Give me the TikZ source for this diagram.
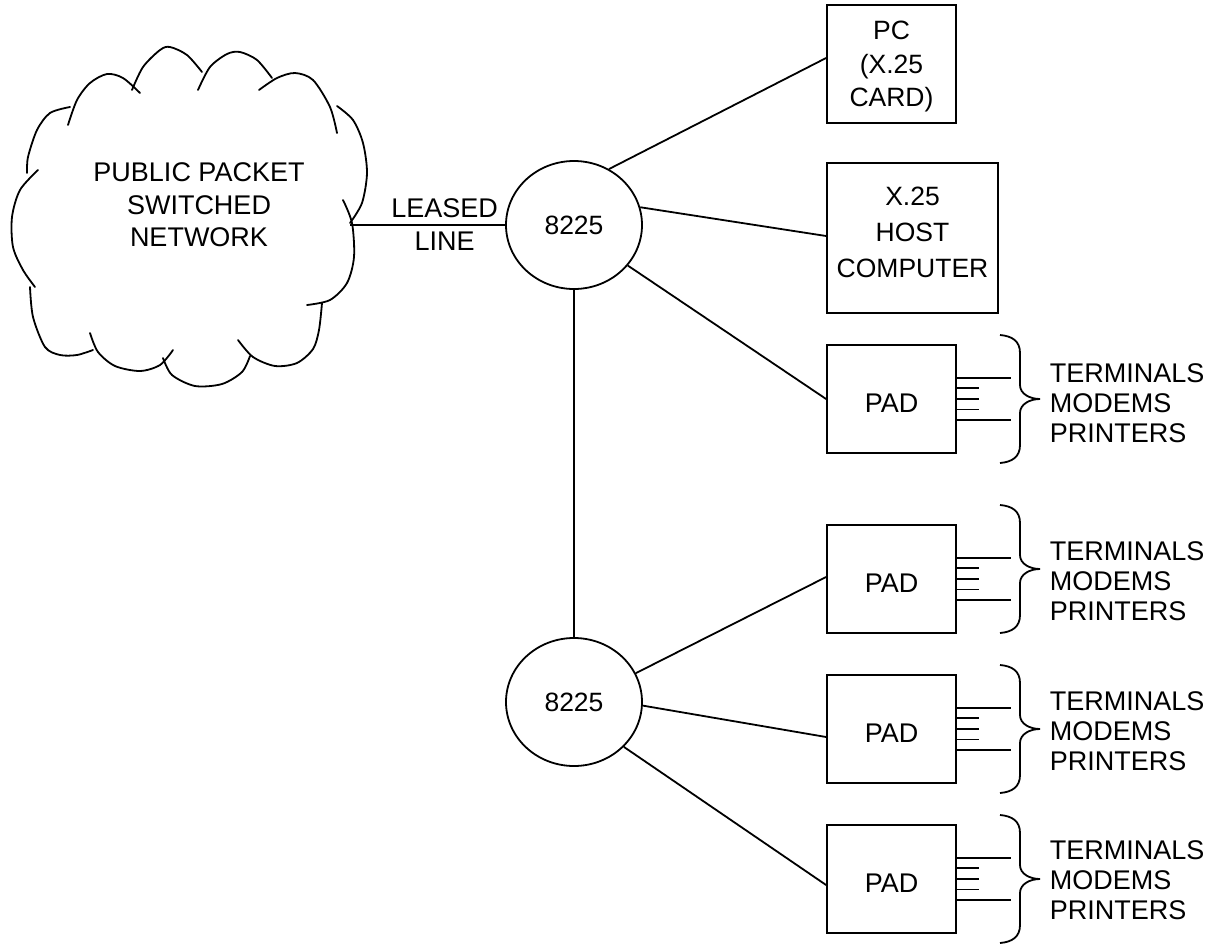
\documentclass[tikz,border=0pt]{standalone}
\usepackage{fontspec}
\setmainfont{Liberation Sans}
\usetikzlibrary{shapes.geometric}
\newcommand{\padbrace}[1]{%
  \draw[shift={(1000,#1)}] (0,-64) .. controls (12,-63) and (20,-58) .. (20,-46)
    -- (20,-14) .. controls (20,-5) and (30,0) .. (40,0)
    .. controls (30,0) and (20,5) .. (20,14)
    -- (20,46) .. controls (20,58) and (12,63) .. (0,64);}
\newcommand{\padstubs}[1]{%
  \draw ([yshift=21pt]#1.east) -- ++(54,0);
  \draw ([yshift=11pt]#1.east) -- ++(22,0);
  \draw (#1.east) -- ++(22,0);
  \draw ([yshift=-10.5pt]#1.east) -- ++(22,0);
  \draw ([yshift=-21pt]#1.east) -- ++(54,0);}
\begin{document}
\begin{tikzpicture}[x=1pt,y=-1pt,line width=1.8pt,
  lbl/.style={font=\fontsize{27}{30}\selectfont, inner sep=0pt},
  boxnode/.style={draw, inner sep=0pt, minimum width=129pt},
  padbox/.style={boxnode, minimum height=108pt},
  switchnode/.style={draw, ellipse, inner sep=0pt, minimum width=136pt,
    minimum height=128pt, font=\fontsize{26.5}{30}\selectfont},
  devlist/.style={lbl, align=left, anchor=west},
  bump/.style={line cap=round}]
\useasboundingbox (0,0) rectangle (1218,945);

% cloud
\draw[bump] plot[smooth] coordinates {(70,107) (50,113) (37,130) (28,157) (27,173)};
\draw[bump] plot[smooth] coordinates {(38,170) (20,190) (12,217) (13,247) (23,270) (35,287)};
\draw[bump] plot[smooth] coordinates {(30,287) (33,317) (45,347) (60,355) (77,355) (93,350)};
\draw[bump] plot[smooth] coordinates {(90,333) (98,352) (115,366) (140,371) (160,365) (173,350)};
\draw[bump] plot[smooth] coordinates {(163,358) (172,375) (195,386) (222,384) (242,372) (250,356)};
\draw[bump] plot[smooth] coordinates {(238,340) (253,357) (275,366) (297,363) (313,349) (319,330) (322,303)};
\draw[bump] plot[smooth] coordinates {(343,200) (352,223) (354,257) (347,283) (330,300) (307,305)};
\draw[bump] plot[smooth] coordinates {(337,106) (353,120) (363,143) (367,173) (362,203) (350,223)};
\draw[bump] plot[smooth] coordinates {(259,90) (277,78) (295,73) (313,80) (330,107) (337,133)};
\draw[bump] plot[smooth] coordinates {(198,90) (210,67) (227,54) (240,52) (257,60) (272,78)};
\draw[bump] plot[smooth] coordinates {(132,90) (143,67) (160,50) (170,47) (187,55) (202,72)};
\draw[bump] plot[smooth] coordinates {(68,125) (77,100) (90,83) (107,74) (123,78) (140,93)};
\node[lbl, align=center, font=\fontsize{27}{32.5}\selectfont] (net) at (199,205)
  {PUBLIC PACKET\\SWITCHED\\NETWORK};
\coordinate (cloudR) at (350,225);

% switches
\node[switchnode] (sw1) at (574,225) {8225};
\node[switchnode] (sw2) at (574,702) {8225};

% boxes
\node[boxnode, minimum height=118pt] (pc) at (891.5,64) {};
\node[lbl, align=center, font=\fontsize{26.5}{33.5}\selectfont] (pcT) at ([yshift=-2.5pt]pc.center)
  {PC\\(X.25\\CARD)};
\node[boxnode, minimum width=171pt, minimum height=150pt] (host) at (912.5,238) {};
\node[lbl, align=center, font=\fontsize{26.5}{36}\selectfont] (hostT) at ([yshift=6pt]host.center)
  {X.25\\HOST\\COMPUTER};
\node[padbox] (pad1) at (891.5,399) {};
\node[padbox] (pad2) at (891.5,579) {};
\node[padbox] (pad3) at (891.5,729) {};
\node[padbox] (pad4) at (891.5,879) {};
\node[lbl] (pad1T) at ([yshift=-4pt]pad1.center) {PAD};
\node[lbl] (pad2T) at ([yshift=-4pt]pad2.center) {PAD};
\node[lbl] (pad3T) at ([yshift=-4pt]pad3.center) {PAD};
\node[lbl] (pad4T) at ([yshift=-4pt]pad4.center) {PAD};

% connectors
\draw (cloudR) -- node[lbl, pos=0.61, align=center, font=\fontsize{27}{33}\selectfont] (leased) {LEASED\\LINE} (sw1.west);
\draw (sw1.58) -- ([yshift=6pt]pc.west);
\draw (sw1.15) -- ([yshift=2pt]host.west);
\draw (sw1.-37) -- (pad1.west);
\draw (sw1.south) -- (sw2.north);
\draw (sw2.25) -- ([yshift=2pt]pad2.west);
\draw (sw2.-3) -- ([yshift=-8pt]pad3.west);
\draw (sw2.-42) -- ([yshift=-6pt]pad4.west);

% terminal lines, braces, lists
\padstubs{pad1}\padstubs{pad2}\padstubs{pad3}\padstubs{pad4}
\padbrace{399}\padbrace{569}\padbrace{729}\padbrace{879}
\node[devlist] (list1) at (1049,403) {TERMINALS\\MODEMS\\PRINTERS};
\node[devlist] (list2) at (1049,581) {TERMINALS\\MODEMS\\PRINTERS};
\node[devlist] (list3) at (1049,731) {TERMINALS\\MODEMS\\PRINTERS};
\node[devlist] (list4) at (1049,880) {TERMINALS\\MODEMS\\PRINTERS};
\end{tikzpicture}
\end{document}
